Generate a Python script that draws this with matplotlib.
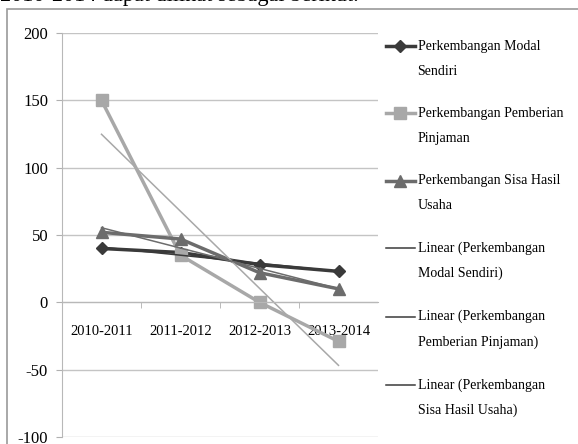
import matplotlib.pyplot as plt
import numpy as np
from matplotlib.patches import Rectangle
from matplotlib.legend_handler import HandlerLine2D

plt.rcParams['font.family'] = ['Liberation Serif', 'DejaVu Serif']

# data
periods = ['2010-2011', '2011-2012', '2012-2013', '2013-2014']
modal_sendiri = [40, 37, 28, 23]
pemberian_pinjaman = [150, 35, 0, -29]
sisa_hasil_usaha = [52, 47, 22, 10]

names = ['Perkembangan Modal\nSendiri',
         'Perkembangan Pemberian\nPinjaman',
         'Perkembangan Sisa Hasil\nUsaha']
trend_names = ['Linear (Perkembangan\nModal Sendiri)',
               'Linear (Perkembangan\nPemberian Pinjaman)',
               'Linear (Perkembangan\nSisa Hasil Usaha)']
yticks = [-100, -50, 0, 50, 100, 150, 200]

colors = ['#3a3a3a', '#a8a8a8', '#6c6c6c']
markers = ['D', 's', '^']
msizes = [6.5, 8, 8]


# legend handle sits next to the first line of a two-line label (like Excel)
class FirstLineHandler(HandlerLine2D):
    def create_artists(self, legend, orig_handle, xdescent, ydescent,
                       width, height, fontsize, trans):
        return super().create_artists(legend, orig_handle, xdescent,
                                      ydescent - 18, width, height,
                                      fontsize, trans)


fig = plt.figure(figsize=(5.78, 4.44), dpi=100)

# frame of the embedded chart + caption line above it
fig.patches.append(Rectangle((7 / 578, -0.05), 1.0, 1 - 9 / 444 + 0.05,
                             transform=fig.transFigure, fill=False,
                             edgecolor='#9a9a9a', lw=1.2))
fig.text(0.0, 1 - 1 / 444, '2010-2014 dapat dilihat sebagai berikut.',
         fontsize=16, va='baseline', ha='left')

ax = fig.add_axes([62 / 578, 1 - 437 / 444, (378 - 62) / 578, (437 - 33) / 444])
x = np.arange(len(periods))

handles = []
for ys, c, m, ms, nm in zip([modal_sendiri, pemberian_pinjaman, sisa_hasil_usaha],
                            colors, markers, msizes, names):
    h, = ax.plot(x, ys, color=c, lw=2.5, marker=m, ms=ms, mfc=c, mec=c, label=nm)
    handles.append(h)

for ys, c in zip([modal_sendiri, pemberian_pinjaman, sisa_hasil_usaha], colors):
    k, b = np.polyfit(x, ys, 1)
    ax.plot(x, k * x + b, color=c, lw=1.1)

ax.set_xlim(-0.5, 3.5)
ax.set_ylim(-100, 200)
ax.set_yticks(yticks)
ax.set_yticklabels([str(v) for v in yticks])
ax.yaxis.grid(True, color='#c4c4c4', lw=1)
ax.set_axisbelow(True)

ax.set_xticks(x)
ax.set_xticklabels(periods)
ax.set_xticks([0.5, 1.5, 2.5], minor=True)
ax.tick_params(axis='x', which='major', length=0, pad=16, labelsize=10.5)
ax.tick_params(axis='x', which='minor', length=4, color='#b0b0b0', direction='out')
ax.tick_params(axis='y', length=4, color='#b0b0b0', pad=6, labelsize=12)

for s in ['top', 'right']:
    ax.spines[s].set_visible(False)
ax.spines['bottom'].set_position(('data', 0))
ax.spines['bottom'].set_color('#b8b8b8')
ax.spines['left'].set_color('#b8b8b8')

trend_handles = [plt.Line2D([], [], color='#3a3a3a', lw=1.1) for _ in trend_names]
leg = fig.legend(handles + trend_handles, names + trend_names, loc='upper left',
                 bbox_to_anchor=(380 / 578, 1 - 34 / 444), frameon=False,
                 fontsize=10, handlelength=2.1, handletextpad=0.2,
                 labelspacing=2.1, borderaxespad=0,
                 handler_map={plt.Line2D: FirstLineHandler()})
for t in leg.get_texts():
    t.set_linespacing(2.2)

fig.savefig('out.png', dpi=100)
